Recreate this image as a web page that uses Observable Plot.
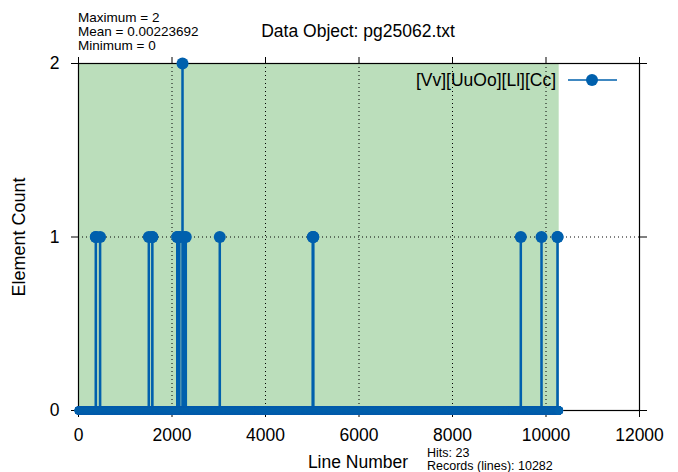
<!DOCTYPE html>
<html>
<head>
<meta charset="utf-8">
<script src="https://cdn.jsdelivr.net/npm/d3@7"></script>
<script src="https://cdn.jsdelivr.net/npm/@observablehq/plot@0.6"></script>
<style>
  html, body { margin: 0; padding: 0; background: #fff; }
  svg { display: block; }
</style>
</head>
<body>
<div id="chart"></div>
<script>
// Match counts of [Vv][UuOo][Ll][Cc] per line of pg25062.txt
const totalLines = 10282;
const hitLines   = [370, 371, 462, 1504, 1579, 1580, 2113, 2114, 2135, 2156, 2157, 2225, 2263, 2295, 3022, 5010, 5022, 5023, 9461, 9904, 10246, 10247];
const hitCounts  = [1,   1,   1,   1,    1,    1,    1,    1,    1,    1,    1,    2,    1,    1,    1,    1,    1,    1,    1,    1,    1,     1];
const xTicks = [0, 2000, 4000, 6000, 8000, 10000, 12000];
const yTicks = [0, 1, 2];

// every line of the file; lines without a match count 0
const hitMap = new Map(hitLines.map((l, i) => [l, hitCounts[i]]));
const records = d3.range(1, totalLines + 1).map(l => ({line: l, count: hitMap.get(l) ?? 0}));

const total = d3.sum(hitCounts);
const mean = total / totalLines;

const blue = "#0060ad";
const font = "'Liberation Sans', Arial, Helvetica, sans-serif";

const chart = Plot.plot({
  width: 678,
  height: 472,
  marginLeft: 78,
  marginRight: 39,
  marginTop: 63,
  marginBottom: 62,
  style: {fontFamily: font, fontSize: "17.5px", background: "#fff", color: "#000"},
  x: {domain: [0, 12000]},
  y: {domain: [0, 2]},
  r: {type: "identity"},
  marks: [
    // shaded extent of the file
    Plot.rect([{x1: 0, x2: totalLines, y1: 0, y2: 2}], {x1: "x1", x2: "x2", y1: "y1", y2: "y2", fill: "#bbdebb"}),
    // dotted grid
    Plot.ruleX(xTicks.slice(1, -1), {stroke: "#000", strokeWidth: 1, strokeDasharray: "1,3"}),
    Plot.ruleY([1], {stroke: "#000", strokeWidth: 1, strokeDasharray: "1,3"}),
    // axes with outward ticks on all four sides
    Plot.axisX({anchor: "bottom", ticks: xTicks, tickSize: 7, tickPadding: 11, tickFormat: d => String(d), label: null, fontSize: 17.5}),
    Plot.axisX({anchor: "top", ticks: xTicks, tickSize: 7, tickFormat: () => "", label: null}),
    Plot.axisY({anchor: "left", ticks: yTicks, tickSize: 7, tickPadding: 12, tickFormat: d => String(d), label: null, fontSize: 17.5}),
    Plot.axisY({anchor: "right", ticks: yTicks, tickSize: 7, tickFormat: () => "", label: null}),
    Plot.frame({stroke: "#000", strokeWidth: 1.2}),
    // data series
    Plot.line(records, {x: "line", y: "count", stroke: blue, strokeWidth: 2.5}),
    Plot.dot(records, {x: "line", y: "count", fill: blue, r: d => d.count > 0 ? 6 : 4})
  ]
});

const svg = d3.select(chart);
const addText = (x, y, txt, opts = {}) => {
  const t = svg.append("text")
    .attr("x", x).attr("y", y)
    .attr("font-family", font)
    .attr("font-size", opts.size || 13.5)
    .attr("text-anchor", opts.anchor || "start")
    .attr("fill", "#000")
    .text(txt);
  if (opts.rotate) t.attr("transform", `rotate(${opts.rotate},${x},${y})`);
  return t;
};

// title and statistics
addText(358, 37, "Data Object: pg25062.txt", {size: 17.5, anchor: "middle"});
addText(78, 22, `Maximum = ${d3.max(hitCounts)}`);
addText(78, 36, `Mean = ${mean.toPrecision(6)}`);
addText(78, 50, "Minimum = 0");

// axis titles
addText(358, 468, "Line Number", {size: 17.5, anchor: "middle"});
addText(25, 237, "Element Count", {size: 18, anchor: "middle", rotate: -90});

// footer counts
addText(427, 456.5, `Hits: ${total}`, {size: 12.5});
addText(427, 469.5, `Records (lines): ${totalLines}`, {size: 12.5});

// legend
addText(556, 86, "[Vv][UuOo][Ll][Cc]", {size: 17.5, anchor: "end"});
svg.append("line").attr("x1", 568).attr("x2", 617).attr("y1", 80).attr("y2", 80)
  .attr("stroke", blue).attr("stroke-width", 1.5);
svg.append("circle").attr("cx", 592).attr("cy", 80).attr("r", 6).attr("fill", blue);

document.getElementById("chart").appendChild(chart);
</script>
</body>
</html>
